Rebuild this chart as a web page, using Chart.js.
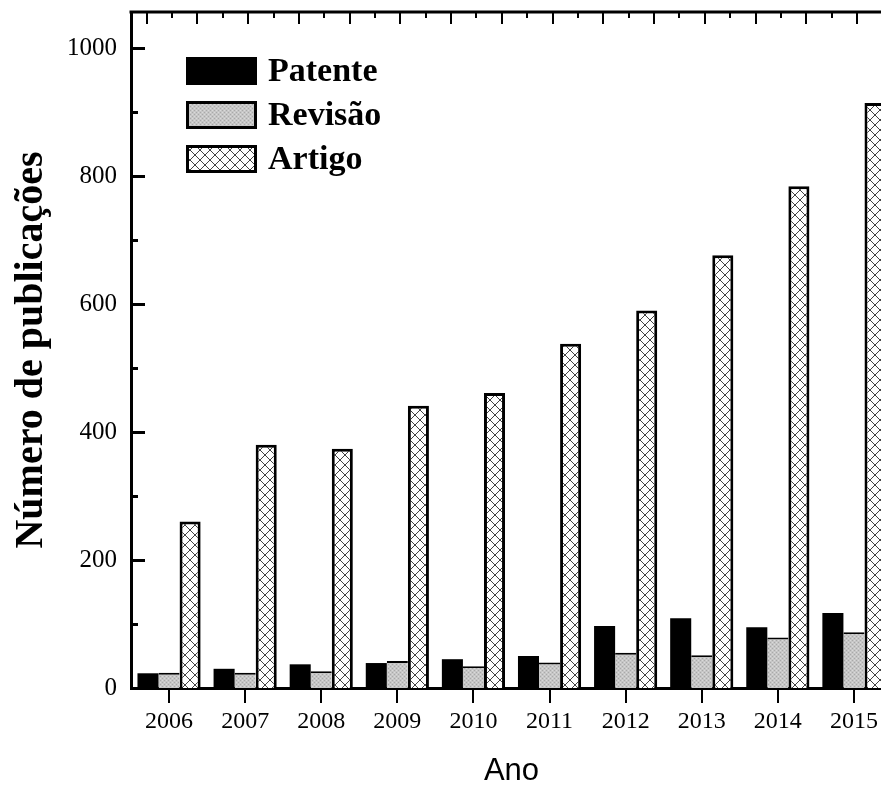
<!DOCTYPE html>
<html>
<head>
<meta charset="utf-8">
<script src="https://cdn.jsdelivr.net/npm/chart.js@4.4.1/dist/chart.umd.min.js"></script>
<style>
  html, body { margin: 0; padding: 0; background: #fff; overflow: hidden; }
  #wrap { width: 881px; height: 787px; overflow: hidden; }
</style>
</head>
<body>
<div id="wrap"><canvas id="myChart" width="900" height="787"></canvas></div>
<script>
  const anos = ['2006', '2007', '2008', '2009', '2010', '2011', '2012', '2013', '2014', '2015']
  const series = ['Patente', 'Revisão', 'Artigo']
  const patente = [23, 30, 37, 39, 45, 50, 97, 109, 95, 117]
  const revisao = [24, 24, 26, 42, 34, 40, 55, 51, 79, 87]
  const artigo = [260, 380, 374, 441, 461, 538, 590, 676, 784, 914]
  const yStep = 200
  const yMinorStep = 100
  const yLast = 1000

  const ctx = document.getElementById('myChart')
  const c2d = ctx.getContext('2d')

  // cross hatch for Artigo
  function hatch() {
    const c = document.createElement('canvas')
    c.width = 10; c.height = 10
    const g = c.getContext('2d')
    g.fillStyle = '#fff'
    g.fillRect(0, 0, 10, 10)
    g.strokeStyle = '#444'
    g.lineWidth = 1
    g.beginPath()
    g.moveTo(-1, -1); g.lineTo(11, 11)
    g.moveTo(11, -1); g.lineTo(-1, 11)
    g.stroke()
    return c2d.createPattern(c, 'repeat')
  }
  // dotted grey for Revisão
  function grey() {
    const c = document.createElement('canvas')
    c.width = 4; c.height = 4
    const g = c.getContext('2d')
    g.fillStyle = '#c6c6c6'
    g.fillRect(0, 0, 4, 4)
    g.fillStyle = '#a9a9a9'
    g.fillRect(0, 0, 1, 1); g.fillRect(2, 2, 1, 1)
    g.fillStyle = '#dadada'
    g.fillRect(2, 0, 1, 1); g.fillRect(0, 2, 1, 1)
    return c2d.createPattern(c, 'repeat')
  }

  const frame = {
    id: 'frame',
    afterDraw(chart) {
      const {ctx, chartArea: a, scales: {y}} = chart
      ctx.save()
      ctx.strokeStyle = '#000'
      ctx.lineWidth = 3
      ctx.beginPath()
      ctx.moveTo(a.left - 1.5, a.top)
      ctx.lineTo(a.right, a.top)
      // inward ticks on the left axis
      for (let v = 0; v <= yLast; v += yMinorStep) {
        const py = Math.round(y.getPixelForValue(v)) + 0.5
        ctx.moveTo(a.left, py)
        ctx.lineTo(a.left + (v % yStep === 0 ? 14 : 7), py)
      }
      ctx.stroke()
      // top axis ticks
      ctx.lineWidth = 2
      ctx.beginPath()
      const step = (a.right - a.left) / 15
      for (let i = 0; i < 30; i++) {
        const px = Math.round(a.left + step * 0.31 + i * step / 2)
        if (px > a.right) break
        ctx.moveTo(px, a.top)
        ctx.lineTo(px, a.top + (i % 2 === 0 ? 12 : 6))
      }
      ctx.stroke()

      // legend
      const lx = a.left + 55
      chart.data.datasets.forEach((ds, i) => {
        const ty = a.top + 45 + i * 44
        ctx.fillStyle = ds.backgroundColor
        ctx.fillRect(lx, ty, 71, 28)
        ctx.lineWidth = 3
        ctx.strokeStyle = '#000'
        ctx.strokeRect(lx + 1.5, ty + 1.5, 68, 25)
        ctx.fillStyle = '#000'
        ctx.font = 'bold 34px "Liberation Serif", "Times New Roman", serif'
        ctx.textBaseline = 'middle'
        ctx.textAlign = 'left'
        ctx.fillText(ds.label, lx + 82, ty + 15)
      })
      ctx.restore()
    }
  }

  Chart.defaults.color = '#000'

  new Chart(ctx, {
    type: 'bar',
    data: {
      labels: anos,
      datasets: [
        {
          label: series[0],
          data: patente,
          backgroundColor: '#000',
          borderWidth: 0
        },
        {
          label: series[1],
          data: revisao,
          backgroundColor: grey(),
          borderColor: '#000',
          borderWidth: {top: 2, left: 0, right: 0, bottom: 0},
          borderSkipped: 'start'
        },
        {
          label: series[2],
          data: artigo,
          backgroundColor: hatch(),
          borderColor: '#000',
          borderWidth: 3,
          borderSkipped: 'start'
        }
      ]
    },
    options: {
      responsive: false,
      animation: false,
      layout: { padding: { top: 12, right: 8, left: 0, bottom: 0 } },
      datasets: { bar: { categoryPercentage: 0.83, barPercentage: 1 } },
      plugins: {
        legend: { display: false },
        tooltip: { enabled: false }
      },
      scales: {
        x: {
          grid: { display: true, drawOnChartArea: false, drawTicks: true, offset: false, tickLength: 15, lineWidth: 2, color: '#000' },
          border: { display: true, width: 3, color: '#000' },
          ticks: {
            padding: 4,
            maxRotation: 0,
            font: { family: '"Liberation Serif", "Times New Roman", serif', size: 24 }
          },
          title: {
            display: true,
            text: 'Ano',
            padding: { top: 0, bottom: 0 },
            font: { family: '"Liberation Sans", Arial, sans-serif', size: 31, lineHeight: 1 }
          },
          afterFit(scale) {
            scale.height = 99
            scale.paddingLeft = 0
            scale.paddingRight = 0
          }
        },
        y: {
          min: 0,
          max: 1056.25,
          grid: { display: false, drawTicks: false },
          border: { display: true, width: 3, color: '#000' },
          ticks: {
            stepSize: yStep,
            includeBounds: false,
            padding: 14,
            callback: (v) => String(v),
            font: { family: '"Liberation Serif", "Times New Roman", serif', size: 25 }
          },
          title: {
            display: true,
            text: 'Número de publicações',
            padding: { top: 8, bottom: 0 },
            font: { family: '"Liberation Serif", "Times New Roman", serif', size: 40, weight: 'bold' }
          },
          afterFit(scale) {
            scale.width = 131
            scale.paddingTop = 0
            scale.paddingBottom = 0
          }
        }
      }
    },
    plugins: [frame]
  })
</script>
</body>
</html>
